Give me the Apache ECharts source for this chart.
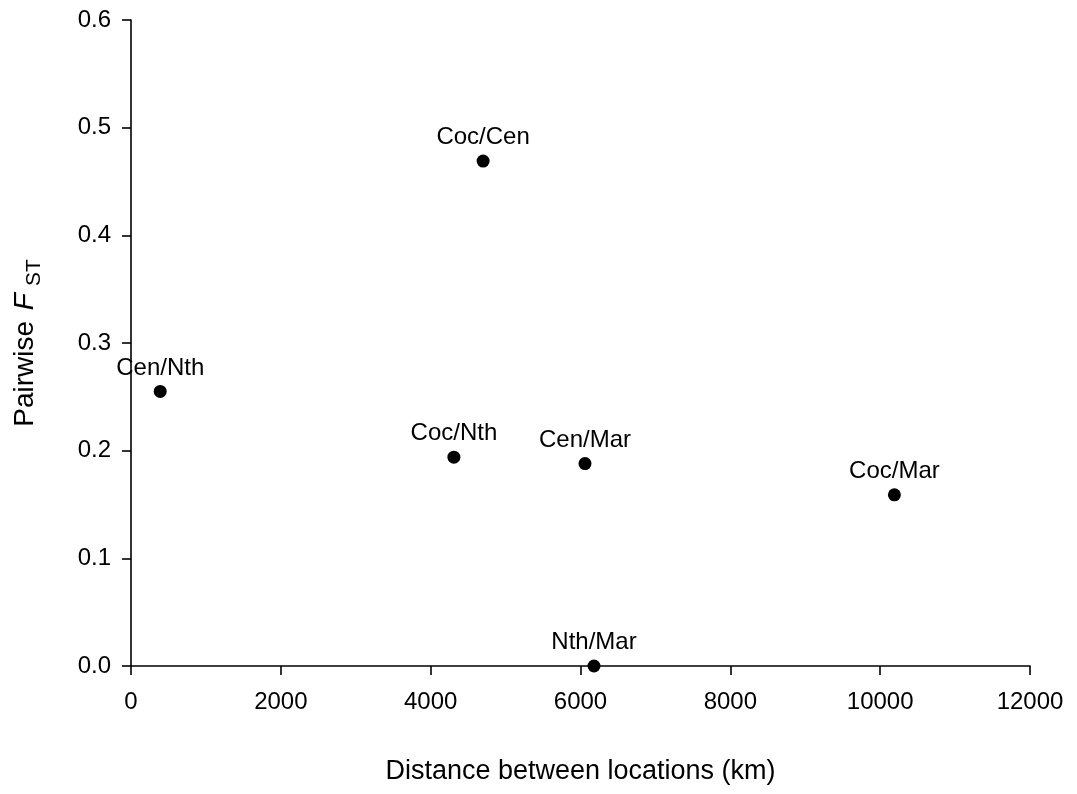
<!DOCTYPE html>
<html>
<head>
<meta charset="utf-8">
<script src="https://cdn.jsdelivr.net/npm/echarts@6/dist/echarts.min.js"></script>
<style>html,body{margin:0;padding:0;background:#fff;}#c{width:1077px;height:794px;}</style>
</head>
<body>
<div id="c"></div>
<script>
const pairLabels = ['Cen/Nth', 'Coc/Cen', 'Coc/Nth', 'Cen/Mar', 'Coc/Mar', 'Nth/Mar'];
const distanceKm = [390, 4700, 4310, 6060, 10190, 6180];
const pairwiseFst = [0.255, 0.469, 0.194, 0.188, 0.159, 0.0];
const xTicks = [0, 2000, 4000, 6000, 8000, 10000, 12000];
const yTicks = [0.0, 0.1, 0.2, 0.3, 0.4, 0.5, 0.6];

const font = '"Liberation Sans", Arial, sans-serif';
const chart = echarts.init(document.getElementById('c'));
const data = distanceKm.map((d, i) => ({ value: [d, pairwiseFst[i]], name: pairLabels[i] }));

chart.setOption({
  animation: false,
  backgroundColor: '#fff',
  grid: { left: 131, right: 47, top: 20, bottom: 128, containLabel: false },
  xAxis: {
    type: 'value', min: xTicks[0], max: xTicks[xTicks.length - 1], interval: 2000,
    name: 'Distance between locations (km)', nameLocation: 'middle', nameGap: 92,
    nameTextStyle: { fontFamily: font, fontSize: 27, color: '#000' },
    axisLine: { show: true, onZero: false, lineStyle: { color: '#000', width: 1.6 } },
    axisTick: { show: true, inside: false, length: 9, lineStyle: { color: '#000', width: 1.6 } },
    axisLabel: { fontFamily: font, fontSize: 24, color: '#000', margin: 24, formatter: v => String(v) },
    splitLine: { show: false }
  },
  yAxis: {
    type: 'value', min: yTicks[0], max: yTicks[yTicks.length - 1], interval: 0.1,
    name: '{a|Pairwise }{f|F}{s|ST}', nameLocation: 'middle', nameGap: 86, nameRotate: 90,
    nameTextStyle: {
      fontFamily: font, fontSize: 28, color: '#000',
      rich: {
        a: { fontFamily: font, fontSize: 28, color: '#000', lineHeight: 40 },
        f: { fontFamily: font, fontSize: 28, fontStyle: 'italic', color: '#000', lineHeight: 40, padding: [0, 3, 0, 3] },
        s: { fontFamily: font, fontSize: 21, color: '#000', lineHeight: 20, verticalAlign: 'bottom', padding: [0, 0, 0, 4] }
      }
    },
    axisLine: { show: true, onZero: false, lineStyle: { color: '#000', width: 1.6 } },
    axisTick: { show: true, inside: false, length: 9, lineStyle: { color: '#000', width: 1.6 } },
    axisLabel: { fontFamily: font, fontSize: 24, color: '#000', margin: 20, formatter: v => v.toFixed(1) },
    splitLine: { show: false }
  },
  series: [{
    type: 'scatter',
    data: data,
    symbol: 'circle',
    symbolSize: 13,
    itemStyle: { color: '#000', opacity: 1 },
    label: {
      show: true, position: 'top', distance: 5,
      formatter: p => p.name,
      fontFamily: font, fontSize: 24, color: '#000'
    },
    z: 5
  }]
});
</script>
</body>
</html>
